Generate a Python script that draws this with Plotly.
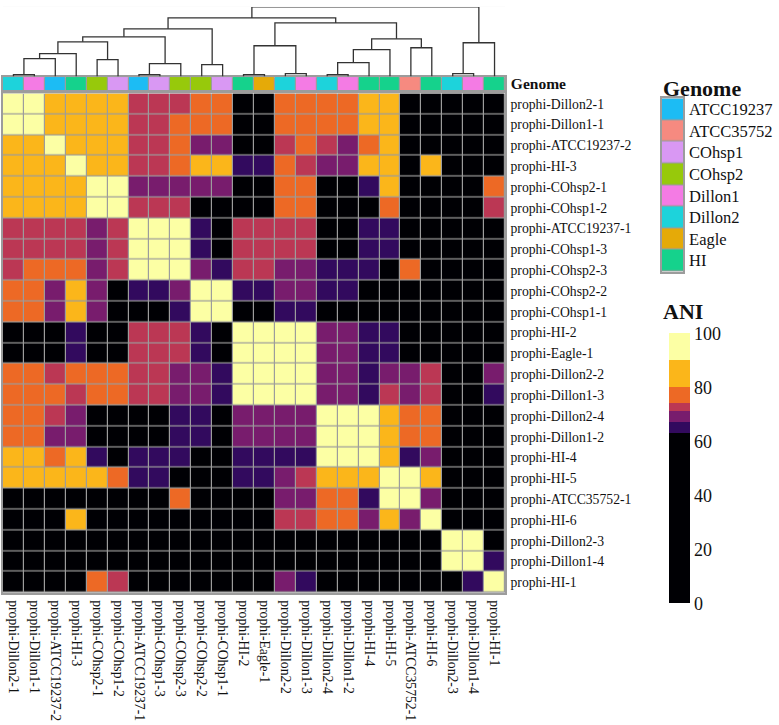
import plotly.graph_objects as go

W, H = 779, 725

# ---------------- data ----------------
labels = ["prophi-Dillon2-1", "prophi-Dillon1-1", "prophi-ATCC19237-2", "prophi-HI-3",
          "prophi-COhsp2-1", "prophi-COhsp1-2", "prophi-ATCC19237-1", "prophi-COhsp1-3",
          "prophi-COhsp2-3", "prophi-COhsp2-2", "prophi-COhsp1-1", "prophi-HI-2",
          "prophi-Eagle-1", "prophi-Dillon2-2", "prophi-Dillon1-3", "prophi-Dillon2-4",
          "prophi-Dillon1-2", "prophi-HI-4", "prophi-HI-5", "prophi-ATCC35752-1",
          "prophi-HI-6", "prophi-Dillon2-3", "prophi-Dillon1-4", "prophi-HI-1"]

genome = ["Dillon2", "Dillon1", "ATCC19237", "HI", "COhsp2", "COhsp1", "ATCC19237", "COhsp1",
          "COhsp2", "COhsp2", "COhsp1", "HI", "Eagle", "Dillon2", "Dillon1", "Dillon2",
          "Dillon1", "HI", "HI", "ATCC35752", "HI", "Dillon2", "Dillon1", "HI"]

genome_levels = ["ATCC19237", "ATCC35752", "COhsp1", "COhsp2", "Dillon1", "Dillon2", "Eagle", "HI"]
genome_colors = ["#1CBCF4", "#F68A80", "#D998F3", "#97C90B", "#F47BE4", "#1DD3DB", "#E5AA08", "#15D28C"]

ani = [
    [100, 97, 85, 85, 85, 85, 72.5, 72.5, 72.5, 77, 77, 0, 0, 77, 77, 77, 77, 85, 85, 0, 0, 0, 0, 0],
    [97, 100, 85, 85, 85, 85, 72.5, 72.5, 77, 77, 77, 0, 0, 77, 77, 77, 77, 85, 85, 0, 0, 0, 0, 0],
    [85, 85, 100, 85, 85, 85, 72.5, 72.5, 77, 69, 69, 0, 0, 72.5, 77, 72.5, 69, 77, 85, 0, 0, 0, 0, 0],
    [85, 85, 85, 100, 85, 85, 72.5, 72.5, 77, 85, 85, 65, 65, 77, 72.5, 69, 69, 85, 85, 0, 85, 0, 0, 0],
    [85, 85, 85, 85, 100, 97, 69, 69, 69, 69, 69, 0, 0, 77, 77, 0, 0, 65, 85, 0, 0, 0, 0, 77],
    [85, 85, 85, 85, 97, 100, 72.5, 72.5, 72.5, 0, 0, 0, 0, 77, 77, 0, 0, 0, 77, 0, 0, 0, 0, 72.5],
    [72.5, 72.5, 72.5, 72.5, 69, 72.5, 100, 97, 97, 65, 0, 72.5, 72.5, 72.5, 72.5, 0, 0, 65, 65, 0, 0, 0, 0, 0],
    [72.5, 72.5, 72.5, 72.5, 69, 72.5, 97, 100, 97, 65, 0, 72.5, 72.5, 72.5, 72.5, 0, 0, 65, 65, 0, 0, 0, 0, 0],
    [72.5, 77, 77, 77, 69, 72.5, 97, 97, 100, 69, 65, 72.5, 72.5, 69, 69, 65, 65, 65, 0, 77, 0, 0, 0, 0],
    [77, 77, 69, 85, 69, 0, 65, 65, 69, 100, 97, 65, 65, 69, 69, 65, 65, 0, 0, 0, 0, 0, 0, 0],
    [77, 77, 69, 85, 69, 0, 0, 0, 65, 97, 100, 0, 0, 65, 65, 0, 0, 0, 0, 0, 0, 0, 0, 0],
    [0, 0, 0, 65, 0, 0, 72.5, 72.5, 72.5, 65, 0, 100, 97, 97, 97, 69, 69, 65, 65, 0, 0, 0, 0, 0],
    [0, 0, 0, 65, 0, 0, 72.5, 72.5, 72.5, 65, 0, 97, 100, 97, 97, 69, 69, 65, 65, 0, 0, 0, 0, 0],
    [77, 77, 72.5, 77, 77, 77, 72.5, 72.5, 69, 69, 65, 97, 97, 100, 97, 69, 69, 65, 69, 69, 72.5, 0, 0, 69],
    [77, 77, 77, 72.5, 77, 77, 72.5, 72.5, 69, 69, 65, 97, 97, 97, 100, 69, 69, 65, 72.5, 69, 72.5, 0, 0, 65],
    [77, 77, 72.5, 69, 0, 0, 0, 0, 65, 65, 0, 69, 69, 69, 69, 100, 97, 97, 85, 77, 77, 0, 0, 0],
    [77, 77, 69, 69, 0, 0, 0, 0, 65, 65, 0, 69, 69, 69, 69, 97, 100, 97, 85, 77, 77, 0, 0, 0],
    [85, 85, 77, 85, 65, 0, 65, 65, 65, 0, 0, 65, 65, 65, 65, 97, 97, 100, 85, 65, 69, 0, 0, 0],
    [85, 85, 85, 85, 85, 77, 65, 65, 0, 0, 0, 65, 65, 69, 72.5, 85, 85, 85, 100, 97, 85, 0, 0, 0],
    [0, 0, 0, 0, 0, 0, 0, 0, 77, 0, 0, 0, 0, 69, 69, 77, 77, 65, 97, 100, 69, 0, 0, 0],
    [0, 0, 0, 85, 0, 0, 0, 0, 0, 0, 0, 0, 0, 72.5, 72.5, 77, 77, 69, 85, 69, 100, 0, 0, 0],
    [0, 0, 0, 0, 0, 0, 0, 0, 0, 0, 0, 0, 0, 0, 0, 0, 0, 0, 0, 0, 0, 100, 97, 0],
    [0, 0, 0, 0, 0, 0, 0, 0, 0, 0, 0, 0, 0, 0, 0, 0, 0, 0, 0, 0, 0, 97, 100, 65],
    [0, 0, 0, 0, 77, 72.5, 0, 0, 0, 0, 0, 0, 0, 69, 65, 0, 0, 0, 0, 0, 0, 0, 65, 100],
]

# colour classes of the ANI legend (inferno, 7 steps)
ani_breaks = [0, 63, 67, 71, 74, 80, 90, 100]
ani_colors = ["#000004", "#320A5E", "#781C6D", "#BB3754", "#ED6925", "#FBB61A", "#FCFFA4"]
ani_ticks = [0, 20, 40, 60, 80, 100]

# hierarchical clustering (scipy-like linkage: left, right, height); leaves 0..23 in display order
linkage = [
    (0, 1, 0.029), (6, 7, 0.029), (11, 12, 0.029), (13, 14, 0.043), (15, 16, 0.029),
    (21, 22, 0.043), (9, 10, 0.171), (25, 8, 0.186), (28, 17, 0.200), (4, 5, 0.243),
    (24, 2, 0.257), (34, 3, 0.329), (32, 18, 0.386), (19, 20, 0.414), (26, 27, 0.443),
    (29, 23, 0.486), (35, 33, 0.500), (36, 37, 0.543), (40, 31, 0.571), (42, 30, 0.686),
    (38, 41, 0.771), (43, 44, 0.843), (45, 39, 1.000),
]

# ---------------- helpers ----------------
FONT = "Liberation Serif"
GRID = "#9c9c9c"


def fx(px):
    return px / W


def fy(py):
    return 1 - py / H


def stepped(breaks, colors):
    lo, hi = breaks[0], breaks[-1]
    cs = []
    for i, c in enumerate(colors):
        cs.append([(breaks[i] - lo) / (hi - lo), c])
        cs.append([(breaks[i + 1] - lo) / (hi - lo), c])
    return cs


n = len(labels)
idx = list(range(n))

# dendrogram segments
nodes_x = {i: float(i) for i in idx}
nodes_h = {i: 0.0 for i in idx}
dx, dy = [], []
for k, (a, b, h) in enumerate(linkage):
    xa, xb = nodes_x[a], nodes_x[b]
    dx += [xa, xa, xb, xb, None]
    dy += [nodes_h[a], h, h, nodes_h[b], None]
    nodes_x[n + k] = (xa + xb) / 2
    nodes_h[n + k] = h

gcode = [genome_levels.index(g) for g in genome]
ng = len(genome_levels)
g_cs = stepped([i - 0.5 for i in range(ng + 1)], genome_colors)

fig = go.Figure()

# main heatmap
fig.add_trace(go.Heatmap(
    z=ani, x=idx, y=idx, xaxis="x", yaxis="y",
    zmin=ani_breaks[0], zmax=ani_breaks[-1],
    colorscale=stepped(ani_breaks, ani_colors),
    xgap=1.2, ygap=1.2, hoverinfo="skip",
    colorbar=dict(
        x=fx(669), xanchor="left", xpad=0, thickness=21, thicknessmode="pixels",
        len=(605 - 333) / H, lenmode="fraction", y=fy((333 + 605) / 2), yanchor="middle",
        ypad=0, outlinewidth=0, tickvals=ani_ticks, ticks="",
        tickfont=dict(family=FONT, size=18, color="#111"),
    ),
))

# annotation bar
fig.add_trace(go.Heatmap(
    z=[gcode], x=idx, y=[0], xaxis="x2", yaxis="y2",
    zmin=-0.5, zmax=ng - 0.5, colorscale=g_cs, showscale=False,
    xgap=1.2, ygap=0, hoverinfo="skip",
))

# dendrogram
fig.add_trace(go.Scatter(
    x=dx, y=dy, xaxis="x3", yaxis="y3", mode="lines",
    line=dict(color="#333333", width=1.3), hoverinfo="skip", showlegend=False,
))

# genome legend
fig.add_trace(go.Heatmap(
    z=[[i] for i in range(ng)], x=[0], y=list(range(ng)), xaxis="x4", yaxis="y4",
    zmin=-0.5, zmax=ng - 0.5, colorscale=g_cs, showscale=False,
    xgap=0, ygap=1.2, hoverinfo="skip",
))

noax = dict(showgrid=False, zeroline=False, showticklabels=False, ticks="")
lab_font = dict(family=FONT, size=13.7, color="#111")

fig.update_layout(
    width=W, height=H,
    margin=dict(l=0, r=0, t=0, b=0),
    paper_bgcolor="white", plot_bgcolor=GRID,
    showlegend=False,
    font=dict(family=FONT, color="#111"),
    xaxis=dict(domain=[fx(3), fx(505)], range=[-0.5, n - 0.5], anchor="y",
               tickvals=idx, ticktext=labels, tickangle=90, ticks="", showgrid=False,
               zeroline=False, tickfont=lab_font, ticklabelstandoff=3,
               showline=True, linecolor=GRID, linewidth=1.5, mirror=True),
    yaxis=dict(domain=[fy(594), fy(92)], range=[n - 0.5, -0.5], anchor="x", side="right",
               tickvals=idx, ticktext=labels, ticks="", showgrid=False, zeroline=False,
               tickfont=lab_font, ticklabelstandoff=1,
               showline=True, linecolor=GRID, linewidth=1.5, mirror=True),
    xaxis2=dict(domain=[fx(3), fx(505)], range=[-0.5, n - 0.5], anchor="y2", **noax,
                showline=True, linecolor=GRID, linewidth=1.5, mirror=True),
    yaxis2=dict(domain=[fy(88.5), fy(75.5)], range=[0.5, -0.5], anchor="x2", side="right",
                tickvals=[0], ticktext=["<b>Genome</b>"], ticks="", showgrid=False,
                zeroline=False, tickfont=dict(family=FONT, size=15.5, color="#111"),
                ticklabelstandoff=1,
                showline=True, linecolor=GRID, linewidth=1.5, mirror=True),
    xaxis3=dict(domain=[fx(3), fx(505)], range=[-0.5, n - 0.5], anchor="y3", **noax),
    yaxis3=dict(domain=[fy(75), fy(5)], range=[0, 1], anchor="x3", **noax),
    xaxis4=dict(domain=[fx(662), fx(683)], range=[-0.5, 0.5], anchor="y4", **noax,
                showline=True, linecolor=GRID, linewidth=1.5, mirror=True),
    yaxis4=dict(domain=[fy(271), fy(97)], range=[ng - 0.5, -0.5], anchor="x4", side="right",
                tickvals=list(range(ng)), ticktext=genome_levels, ticks="", showgrid=False,
                zeroline=False, tickfont=dict(family=FONT, size=16.5, color="#111"),
                ticklabelstandoff=1,
                showline=True, linecolor=GRID, linewidth=1.5, mirror=True),
    shapes=[dict(type="rect", xref="x3 domain", yref="y3 domain", x0=0, x1=1, y0=0, y1=1,
                 fillcolor="white", line=dict(width=0), layer="below")],
    annotations=[
        dict(text="<b>Genome</b>", x=fx(661), y=fy(87), xref="paper", yref="paper",
             xanchor="left", yanchor="middle", showarrow=False,
             font=dict(family=FONT, size=22, color="#111")),
        dict(text="<b>ANI</b>", x=fx(661), y=fy(311), xref="paper", yref="paper",
             xanchor="left", yanchor="middle", showarrow=False,
             font=dict(family=FONT, size=22, color="#111")),
    ],
)

fig.write_html("out.html",
               config={"displayModeBar": False},
               post_script="document.body.style.margin='0px';document.body.style.overflow='hidden';")
